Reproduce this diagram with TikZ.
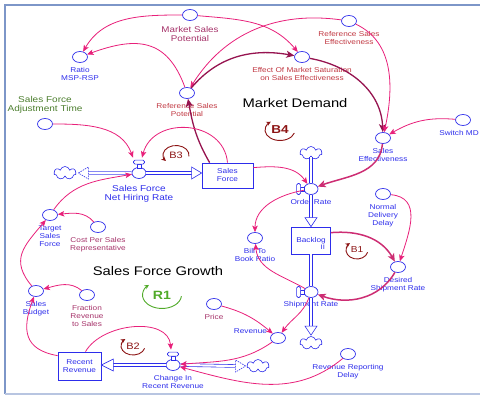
\documentclass[tikz,border=0pt]{standalone}
\usepackage{fontspec}
\setmainfont{Liberation Sans}[FakeStretch=1.18]
\usetikzlibrary{calc,positioning,arrows.meta,shapes.geometric,shapes.symbols}

\definecolor{vblue}{RGB}{45,45,235}
\definecolor{vpink}{RGB}{232,32,122}
\definecolor{vplum}{RGB}{150,20,80}
\definecolor{vrose}{RGB}{205,45,115}
\definecolor{vred}{RGB}{192,55,65}
\definecolor{vmauve}{RGB}{165,50,105}
\definecolor{vgreen}{RGB}{75,125,45}
\definecolor{vlime}{RGB}{80,170,40}
\definecolor{vloop}{RGB}{140,20,20}
\definecolor{vframe}{RGB}{125,150,200}

\tikzset{
  aux/.style={ellipse, draw=vblue, line width=0.7pt, fill=white,
    minimum width=15pt, minimum height=11pt, inner sep=0pt},
  valve/.style={aux, minimum width=14pt},
  stock/.style={rectangle, draw=vblue, line width=0.7pt, fill=white,
    text=vblue, align=center, inner sep=0pt, font=\fontsize{7}{8}\selectfont},
  puff/.style={cloud, cloud puffs=7, draw=vblue, line width=0.6pt, fill=white,
    minimum width=22pt, minimum height=13pt, inner sep=0pt},
  lab/.style={text=vblue, align=center, inner sep=0pt, font=\fontsize{7}{8}\selectfont},
  labred/.style={lab, text=vred},
  labmauve/.style={lab, text=vmauve},
  bigtext/.style={inner sep=0pt, font=\fontsize{12.5}{14}\selectfont},
  pipe/.style={draw=vblue, line width=0.6pt, double=white, double distance=2.2pt},
  pipehead/.style={draw=vblue, line width=0.6pt, fill=white},
  pipeheadd/.style={pipehead, dash pattern=on 1.5pt off 1pt},
  handle/.style={draw=vblue, line width=0.6pt, fill=white},
  infl/.style={vpink, line width=0.8pt, -{Stealth[length=6.5pt,width=5.5pt,inset=1.5pt]}},
  infld/.style={vplum, line width=1.3pt, -{Stealth[length=8pt,width=7pt,inset=2pt]}},
  inflm/.style={vrose, line width=1.5pt, -{Stealth[length=8pt,width=7pt,inset=2pt]}},
  loopr/.style={vloop, line width=0.9pt, -{Stealth[length=4.5pt,width=4.5pt]}},
  loopg/.style={loopr, vlime},
  looptext/.style={text=vloop, inner sep=0pt, font=\fontsize{9.3}{10}\selectfont},
}

\begin{document}
\begin{tikzpicture}[x=1pt,y=1pt]

\useasboundingbox (0,0) rectangle (480,396);

% frame
\draw[vframe, line width=1.2pt] (495,391) -- (5,391) -- (5,2);
\draw[vframe!55, line width=1.5pt] (5,2) -- (495,2);

% Market demand sector
\node[aux] (msp) at (190,381) {};
\node[aux] (ratio) at (80,339) {};
\node[aux] (rsp) at (187,303) {};
\node[aux] (rse) at (349,375) {};
\node[aux] (eff) at (302,339) {};
\node[aux] (se) at (383,258) {};
\node[aux] (smd) at (463,276) {};

\node[labmauve, font=\fontsize{8.3}{9}\selectfont, below=5.5pt of msp] (mspl) {Market Sales\\Potential};
\node[lab, below=4.5pt of ratio] (ratiol) {Ratio\\MSP-RSP};
\node[labred, below=4.5pt of rsp] (rspl) {Reference Sales\\Potential};
\node[labred, below=4.5pt of rse] (rsel) {Reference Sales\\Effectiveness};
\node[labred, below=4.5pt of eff] (effl) {Effect Of Market Saturation\\on Sales Effectiveness};
\node[lab, below=4.5pt of se] (sel) {Sales\\Effectiveness};
\node[lab, anchor=north east] (smdl) at ($(smd.south)+(16,-4.5)$) {Switch MD};

\node[bigtext] (md) at (295,293) {Market Demand};

% Sales force sector
\node[aux] (sfat) at (45,272) {};
\node[lab, text=vgreen, font=\fontsize{8.5}{9}\selectfont, above=5pt of sfat] (sfatl) {Sales Force\\Adjustment Time};
\node[puff] (cl1) at (65,223) {};
\node[valve] (nhr) at (139,223) {};
\node[lab, font=\fontsize{8.5}{9}\selectfont, below=6pt of nhr] (nhrl) {Sales Force\\Net Hiring Rate};
\node[stock, minimum width=51pt, minimum height=25pt] (sf) at (227.5,220.5) {Sales\\Force};

\node[aux] (tsf) at (50,181) {};
\node[lab, below=4.5pt of tsf] (tsfl) {Target\\Sales\\Force};
\node[aux] (cpsr) at (98,169) {};
\node[labmauve, below=4.5pt of cpsr] (cpsrl) {Cost Per Sales\\Representative};
\node[aux] (sb) at (36,105) {};
\node[lab, below=4.5pt of sb] (sbl) {Sales\\Budget};
\node[aux] (frs) at (87,101) {};
\node[labmauve, below=4.5pt of frs] (frsl) {Fraction\\Revenue\\to Sales};

\node[bigtext] (sfg) at (158,125) {Sales Force Growth};

% Order sector
\node[puff] (cl2) at (311,243) {};
\node[valve] (orr) at (311,207) {};
\node[lab, below=4pt of orr] (orrl) {Order Rate};
\node[stock, minimum width=39pt, minimum height=27pt] (bl) at (311,155.5) {Backlog};
\node[lab, font=\fontsize{6.5}{7}\selectfont] (blii) at ($(bl.south east)+(-8,7)$) {II};
\node[aux] (btb) at (255,158) {};
\node[lab, below=4.5pt of btb] (btbl) {Bill To\\Book Ratio};
\node[aux] (ndd) at (383,202) {};
\node[lab, below=4.5pt of ndd] (nddl) {Normal\\Delivery\\Delay};
\node[aux] (dsr) at (398,129) {};
\node[lab, below=4.5pt of dsr] (dsrl) {Desired\\Shipment Rate};
\node[valve] (sr) at (311,104) {};
\node[lab, below=3.5pt of sr] (srl) {Shipment Rate};
\node[puff] (cl3) at (311,53) {};

% Revenue sector
\node[aux] (rev) at (278,58) {};
\node[lab, anchor=east] (revl) at ($(rev.west)+(-3,7)$) {Revenue};
\node[aux] (price) at (214,92) {};
\node[labmauve, below=4.5pt of price] (pricel) {Price};
\node[aux] (rrd) at (348,42) {};
\node[lab, below=4.5pt of rrd] (rrdl) {Revenue Reporting\\Delay};
\node[valve] (cir) at (173,31) {};
\node[lab, below=4pt of cir] (cirl) {Change In\\Recent Revenue};
\node[puff] (cl4) at (258,30) {};
\node[stock, minimum width=43pt, minimum height=28pt] (rr) at (79.5,30) {Recent\\Revenue};

% valve handles
\draw[handle] ($(nhr.north)+(-2,-1)$) rectangle ($(nhr.north)+(2,3)$);
\draw[handle, rounded corners=1.5pt] ($(nhr.north)+(-5.5,3)$) rectangle ($(nhr.north)+(5.5,7)$);
\draw[handle] ($(cir.north)+(-2,-1)$) rectangle ($(cir.north)+(2,3)$);
\draw[handle, rounded corners=1.5pt] ($(cir.north)+(-5.5,3)$) rectangle ($(cir.north)+(5.5,7)$);
\draw[handle] ($(orr.west)+(1,-2)$) rectangle ($(orr.west)+(-3,2)$);
\draw[handle, rounded corners=1.5pt] ($(orr.west)+(-3,-5.5)$) rectangle ($(orr.west)+(-7,5.5)$);
\draw[handle] ($(sr.west)+(1,-2)$) rectangle ($(sr.west)+(-3,2)$);
\draw[handle, rounded corners=1.5pt] ($(sr.west)+(-3,-5.5)$) rectangle ($(sr.west)+(-7,5.5)$);

% flow into Sales Force
\coordinate (sfin) at (sf.west |- nhr);
\draw[pipe] ($(cl1.east)+(12,0)$) -- (nhr.west);
\draw[pipe] (nhr.east) -- ($(sfin)+(-10,0)$);
\draw[pipehead] (sfin) -- ($(sfin)+(-10,6)$) -- ($(sfin)+(-10,-6)$) -- cycle;
\draw[pipeheadd] ($(cl1.east)+(2,0)$) -- ($(cl1.east)+(12,6)$) -- ($(cl1.east)+(12,-6)$) -- cycle;

% flow into Backlog
\coordinate (blin) at (orr |- bl.north);
\draw[pipe] (cl2.south) -- (orr.north);
\draw[pipe] (orr.south) -- ($(blin)+(0,9)$);
\draw[pipehead] (blin) -- ($(blin)+(-6,9)$) -- ($(blin)+(6,9)$) -- cycle;

% flow out of Backlog
\coordinate (blout) at (sr |- bl.south);
\coordinate (cl3in) at ($(cl3.north)+(0,1)$);
\draw[pipe] (blout) -- (sr.north);
\draw[pipe] (sr.south) -- ($(cl3in)+(0,9)$);
\draw[pipehead] (cl3in) -- ($(cl3in)+(-6,9)$) -- ($(cl3in)+(6,9)$) -- cycle;

% flow into Recent Revenue
\coordinate (rrin) at (rr.east |- cir);
\coordinate (cl4in) at ($(cl4.west)+(-1,0)$);
\draw[pipe] ($(cl4in)+(-10,0)$) -- (cir.east);
\draw[pipe] (cir.west) -- ($(rrin)+(12,0)$);
\draw[pipehead] (rrin) -- ($(rrin)+(12,6)$) -- ($(rrin)+(12,-6)$) -- cycle;
\draw[pipeheadd] (cl4in) -- ($(cl4in)+(-10,6)$) -- ($(cl4in)+(-10,-6)$) -- cycle;

% arrow ends on the valve handles
\coordinate (nhrA) at ($(nhr.north)+(-6,9.5)$);
\coordinate (nhrB) at ($(nhr.north)+(3,9.5)$);
\coordinate (cirA) at ($(cir.north)+(-2,9.5)$);
\coordinate (sftop) at ($(sf.north west)+(8,0)$);
\coordinate (sfside) at ($(sf.north east)+(0,-5)$);
\coordinate (blside) at ($(bl.north east)+(0,-6)$);
\coordinate (rrtop) at ($(rr.north)+(6,0)$);
\coordinate (rrside) at ($(rr.north west)+(0,-4)$);

% links, market demand
\draw[infl] (msp) to[out=180, in=60] (ratio);
\draw[infl] (msp) to[out=-5, in=130] (eff);
\draw[infl] (rsp) to[out=110, in=20, looseness=1.3] (ratio);
\draw[infl] (rse) to[out=172, in=58] (rsp);
\draw[infld] (rsp) to[out=50, in=170] (eff);
\draw[infld] (sftop) to[out=120, in=-80] (rsp);
\draw[infld] (eff) to[out=-10, in=92] (se);
\draw[infl] (rse) to[out=-25, in=78] (se);
\draw[infl] (smd) to[out=175, in=30] (se);
\draw[inflm] (se) to[out=-95, in=20] (orr);
\draw[infl] (sfside) to[out=5, in=125] (orr);

% links, sales force
\draw[infl] (sf.north) to[out=95, in=75, looseness=1.3] (nhrB);
\draw[infl] (sfat) to[out=0, in=110] (nhrA);
\draw[infl] (tsf) to[out=55, in=190] (nhr);
\draw[infl] (rrside) to[out=170, in=-110, looseness=1.4] (sb);
\draw[infl] (frs) to[out=140, in=15] (sb);
\draw[infl] (sb) to[out=130, in=-130, looseness=1.3] (tsf);
\draw[infl] (cpsr) to[out=130, in=5] (tsf);

% links, orders and shipments
\draw[infl] (orr) to[out=190, in=90] (btb);
\draw[infl] (sr) to[out=150, in=-85] (btb);
\draw[inflm] (blside) to[out=5, in=120] (dsr);
\draw[infl] (ndd) to[out=-5, in=72, looseness=1.2] (dsr);
\draw[inflm] (dsr) to[out=-120, in=-20] (sr);

% links, revenue
\draw[infl] (sr) to[out=-110, in=55] (rev);
\draw[infl] (price) to[out=-15, in=140] (rev);
\draw[infl] (rev) to[out=-145, in=5] (cir);
\draw[infl] (rrd) to[out=-140, in=-15] (cir);
\draw[infl] (rrtop) to[out=60, in=95] (cirA);

% loop markers
\node[looptext, font=\fontsize{11.5}{12}\selectfont\bfseries] (b4) at (280,266) {B4};
\draw[loopr] ($(b4)+(-17:15pt and 10.5pt)$) arc[start angle=-17, end angle=-232, x radius=15pt, y radius=10.5pt];
\node[looptext] (b3) at (176,241) {B3};
\draw[loopr] ($(b3)+(-8:13pt and 9.5pt)$) arc[start angle=-8, end angle=219, x radius=13pt, y radius=9.5pt];
\node[looptext, font=\fontsize{8.6}{9}\selectfont] (b1) at (357,146) {B1};
\draw[loopr] ($(b1)+(-15:11pt and 9pt)$) arc[start angle=-15, end angle=-230, x radius=11pt, y radius=9pt];
\node[looptext] (b2) at (133,50) {B2};
\draw[loopr] ($(b2)+(-15:12pt and 9pt)$) arc[start angle=-15, end angle=-230, x radius=12pt, y radius=9pt];
\node[looptext, text=vlime, font=\fontsize{12}{13}\selectfont\bfseries] (r1) at (162,101) {R1};
\draw[loopg] ($(r1)+(-5:19.5pt and 13.5pt)$) arc[start angle=-5, end angle=-228, x radius=19.5pt, y radius=13.5pt];

\end{tikzpicture}
\end{document}
